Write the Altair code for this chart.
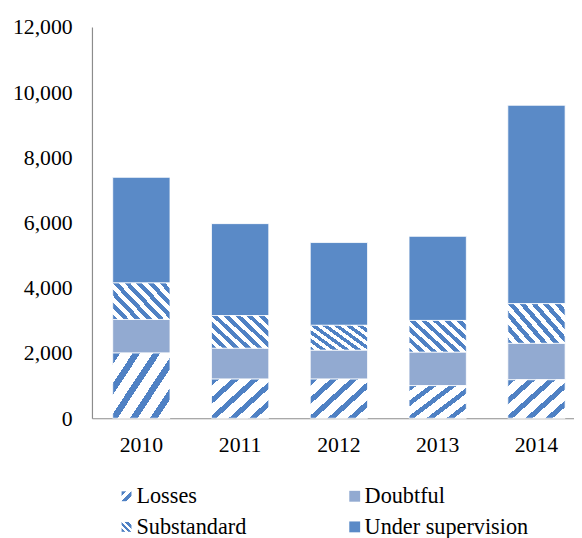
import altair as alt
import pandas as pd

years = ["2010", "2011", "2012", "2013", "2014"]
categories = ["Losses", "Doubtful", "Substandard", "Under supervision"]
losses = [2000, 1200, 1200, 1000, 1180]
doubtful = [1030, 950, 890, 1030, 1120]
substandard = [1120, 1000, 760, 970, 1215]
under_supervision = [3240, 2820, 2540, 2580, 6085]
y_ticks = [0, 2000, 4000, 6000, 8000, 10000, 12000]

series = [losses, doubtful, substandard, under_supervision]
rows = []
for ci, (cat, vals) in enumerate(zip(categories, series)):
    for y, v in zip(years, vals):
        rows.append({"year": y, "type": cat, "value": v, "order": ci})
df = pd.DataFrame(rows)

legend_df = pd.DataFrame({
    "type": categories,
    "col": [0, 1, 0, 1],
    "row": [0, 0, 1, 1],
})

BLUE = "#5A8AC7"
STRIPE = "#4F81C4"
LIGHT = "#92AAD1"
FONT = "Liberation Serif"


def stripes(x1, y1, x2, y2, n, frac, color):
    stops = []
    for k in range(n):
        a = round(k / n, 4)
        b = round((k + frac) / n, 4)
        c = round((k + 1) / n, 4)
        stops += [
            alt.GradientStop(offset=a, color=color),
            alt.GradientStop(offset=b, color=color),
            alt.GradientStop(offset=b, color="white"),
            alt.GradientStop(offset=c, color="white"),
        ]
    return alt.LinearGradient(gradient="linear", stops=stops,
                              x1=x1, y1=y1, x2=x2, y2=y2)


losses_fill = stripes(0, 0, 1.12, 0.84, 5, 0.38, STRIPE)
subst_fill = stripes(-0.1, 0.86, 1.1, 0.14, 8, 0.5, STRIPE)
losses_sym = stripes(0, 0, 1, 1, 2, 0.45, STRIPE)
subst_sym = stripes(0, 1, 1, 0, 3, 0.5, STRIPE)

x_enc = alt.X("year:N", title=None,
              scale=alt.Scale(paddingInner=0.42, paddingOuter=0.15, align=0.7),
              axis=alt.Axis(labelAngle=0, ticks=False, tickSize=0, labelPadding=17,
                            labelFont=FONT, labelFontSize=22, labelColor="black",
                            domainColor="#8C8C8C", domainWidth=1.2))
y_enc = alt.Y("y0:Q", title=None,
              scale=alt.Scale(domain=[0, 12000], nice=False),
              axis=alt.Axis(values=y_ticks, format=",.0f", grid=False, ticks=False,
                            tickSize=0, labelPadding=20, labelFont=FONT,
                            labelFontSize=22, labelColor="black",
                            domainColor="#8C8C8C", domainWidth=1.2))

base = alt.Chart(df).transform_stack(
    stack="value", groupby=["year"], as_=["y0", "y1"],
    sort=[alt.SortField("order", order="ascending")]
)

solid = base.transform_filter(
    alt.FieldOneOfPredicate(field="type", oneOf=["Doubtful", "Under supervision"])
).mark_bar(stroke="white", strokeWidth=0.8).encode(
    x=x_enc, y=y_enc, y2="y1:Q",
    fill=alt.Fill("type:N", legend=None,
                  scale=alt.Scale(domain=["Doubtful", "Under supervision"],
                                  range=[LIGHT, BLUE])),
)

hatch_losses = base.transform_filter(alt.datum.type == "Losses").mark_bar(
    fill=losses_fill, stroke="white", strokeWidth=0.8
).encode(x=x_enc, y=y_enc, y2="y1:Q")

hatch_subst = base.transform_filter(alt.datum.type == "Substandard").mark_bar(
    fill=subst_fill, stroke="white", strokeWidth=0.8
).encode(x=x_enc, y=y_enc, y2="y1:Q")

bars = alt.layer(solid, hatch_losses, hatch_subst)

lx = alt.X("col:Q", scale=alt.Scale(domain=[0, 1], range=[35, 266]), axis=None)
ly = alt.Y("row:Q", scale=alt.Scale(domain=[0, 1], range=[475, 506]), axis=None)

leg_base = alt.Chart(legend_df)
leg_solid = leg_base.transform_filter(
    alt.FieldOneOfPredicate(field="type", oneOf=["Doubtful", "Under supervision"])
).mark_square(size=121, opacity=1).encode(
    x=lx, y=ly,
    fill=alt.Fill("type:N", legend=None,
                  scale=alt.Scale(domain=["Doubtful", "Under supervision"],
                                  range=[LIGHT, BLUE])),
)
leg_losses = leg_base.transform_filter(alt.datum.type == "Losses").mark_square(
    size=100, fill=losses_sym, opacity=1).encode(x=lx, y=ly)
leg_subst = leg_base.transform_filter(alt.datum.type == "Substandard").mark_square(
    size=100, fill=subst_sym, opacity=1).encode(x=lx, y=ly)
leg_text = leg_base.mark_text(align="left", baseline="middle", dx=10, font=FONT,
                              fontSize=22.5, color="black").encode(
    x=lx, y=ly, text="type:N")

legend = alt.layer(leg_solid, leg_losses, leg_subst, leg_text)

chart = alt.layer(bars, legend).resolve_scale(
    x="independent", y="independent", fill="independent"
).properties(
    width=488, height=396,
    padding={"left": 4, "top": 5, "right": 0, "bottom": 0},
).configure_view(stroke=None)

chart.save("out.html", embed_options={"renderer": "svg", "actions": False})
